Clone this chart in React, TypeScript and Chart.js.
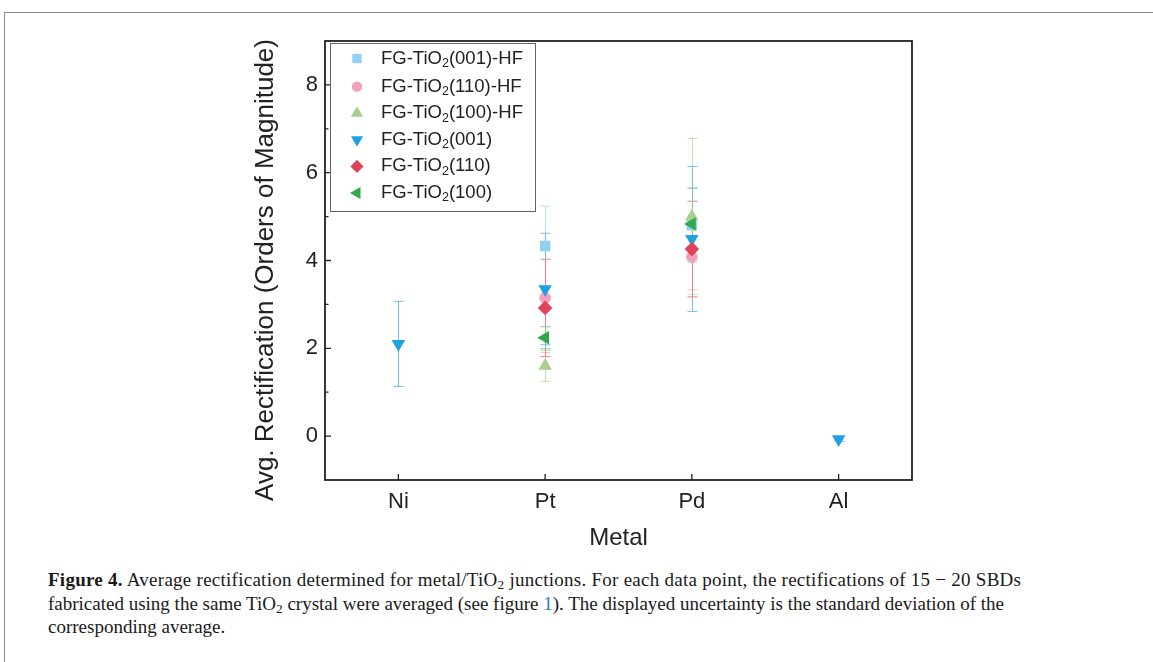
import React, { useEffect, useRef } from "react";
import { Chart, registerables } from "chart.js";

Chart.register(...registerables);

// ---------- data ----------
const metals = ["Ni", "Pt", "Pd", "Al"];

const labelPrefix = "FG-TiO";
const labelSub = "2";
const labelSuffixes = ["(001)-HF", "(110)-HF", "(100)-HF", "(001)", "(110)", "(100)"];

const v001HF = [null, 4.33, 4.8, null];
const e001HF = [null, 0.91, 0.85, null];
const v110HF = [null, 3.15, 4.08, null];
const e110HF = [null, 1.25, 0.75, null];
const v100HF = [null, 1.6, 5.0, null];
const e100HF = [null, 0.35, 1.78, null];
const v001 = [2.1, 3.35, 4.49, -0.07];
const e001 = [0.97, 1.27, 1.65, 0.05];
const v110 = [null, 2.92, 4.26, null];
const e110 = [null, 1.11, 1.09, null];
const v100 = [null, 2.24, 4.83, null];
const e100 = [null, 0.25, 0.82, null];

const yTickValues = [0, 2, 4, 6, 8];

// ---------- styles ----------
const seriesValues = [v001HF, v110HF, v100HF, v001, v110, v100];
const seriesErrors = [e001HF, e110HF, e100HF, e001, e110, e100];
const markerColors = ["#8fd0f4", "#f0a2bc", "#a9cf8f", "#1ea2e4", "#e0445a", "#2fa84e"];
const errorColors = ["#b3def7", "#f3c2d1", "#c4dfb2", "#6cc3ee", "#ec7e8c", "#7cc98d"];
const markerStyles = ["rect", "circle", "triangle", "triangle", "rectRot", "triangle"];
const markerRotations = [0, 0, 0, 180, 0, 270];
const markerRadii = [7.3, 5.8, 7.8, 7.8, 7.3, 7.8];

const SANS = "'Liberation Sans', Arial, sans-serif";
const AXIS_COLOR = "#222";

function drawMarker(ctx: CanvasRenderingContext2D, style: string, rotDeg: number, r: number, x: number, y: number) {
  let rad = (rotDeg * Math.PI) / 180;
  ctx.beginPath();
  if (style === "circle") {
    ctx.arc(x, y, r, 0, Math.PI * 2);
  } else if (style === "rect") {
    const s = Math.SQRT1_2 * r;
    ctx.rect(x - s, y - s, 2 * s, 2 * s);
  } else if (style === "triangle") {
    ctx.moveTo(x + Math.sin(rad) * r, y - Math.cos(rad) * r);
    rad += (2 * Math.PI) / 3;
    ctx.lineTo(x + Math.sin(rad) * r, y - Math.cos(rad) * r);
    rad += (2 * Math.PI) / 3;
    ctx.lineTo(x + Math.sin(rad) * r, y - Math.cos(rad) * r);
    ctx.closePath();
  } else if (style === "rectRot") {
    ctx.moveTo(x - r, y);
    ctx.lineTo(x, y - r);
    ctx.lineTo(x + r, y);
    ctx.lineTo(x, y + r);
    ctx.closePath();
  }
  ctx.fill();
}

const errorBarPlugin = {
  id: "errorBars",
  beforeDatasetsDraw(chart: any) {
    const ctx = chart.ctx as CanvasRenderingContext2D;
    const xs = chart.scales.x;
    const ys = chart.scales.y;
    ctx.save();
    ctx.lineWidth = 1;
    seriesValues.forEach((vals, i) => {
      ctx.strokeStyle = errorColors[i];
      vals.forEach((v, j) => {
        const e = seriesErrors[i][j];
        if (v === null || e === null) return;
        const x = Math.round(xs.getPixelForValue(j)) + 0.5;
        const yt = ys.getPixelForValue((v as number) + (e as number));
        const yb = ys.getPixelForValue((v as number) - (e as number));
        ctx.beginPath();
        ctx.moveTo(x, yt);
        ctx.lineTo(x, yb);
        ctx.moveTo(x - 5, yt);
        ctx.lineTo(x + 5, yt);
        ctx.moveTo(x - 5, yb);
        ctx.lineTo(x + 5, yb);
        ctx.stroke();
      });
    });
    ctx.restore();
  },
};

const framePlugin = {
  id: "frameAndLegend",
  afterDraw(chart: any) {
    const ctx = chart.ctx as CanvasRenderingContext2D;
    const { left, right, top, bottom } = chart.chartArea;
    const xs = chart.scales.x;
    const ys = chart.scales.y;
    ctx.save();
    // frame
    ctx.strokeStyle = AXIS_COLOR;
    ctx.lineWidth = 1.8;
    ctx.strokeRect(left, top, right - left, bottom - top);
    // inward ticks
    ctx.lineWidth = 1.3;
    ctx.beginPath();
    for (let v = -1; v <= 9; v++) {
      const y = ys.getPixelForValue(v);
      const len = v % 2 === 0 ? 6 : 3.5;
      if (v === -1 || v === 9) continue;
      ctx.moveTo(left, y);
      ctx.lineTo(left + len, y);
    }
    metals.forEach((_, j) => {
      const x = xs.getPixelForValue(j);
      ctx.moveTo(x, bottom);
      ctx.lineTo(x, bottom - 6);
    });
    ctx.stroke();

    // y title
    ctx.fillStyle = AXIS_COLOR;
    ctx.font = `26px ${SANS}`;
    ctx.textAlign = "center";
    ctx.textBaseline = "middle";
    ctx.translate(266, 270);
    ctx.rotate(-Math.PI / 2);
    ctx.fillText("Avg. Rectification (Orders of Magnitude)", 0, 0);
    ctx.restore();

    // legend
    ctx.save();
    const lx = left + 5.5;
    const ly = top + 2.5;
    ctx.strokeStyle = "#666";
    ctx.lineWidth = 1;
    ctx.strokeRect(lx, ly, 205, 168);
    labelSuffixes.forEach((suf, i) => {
      const cy = 58.5 + i * 26.6 + (i > 0 ? 1.5 : 0);
      ctx.fillStyle = markerColors[i];
      drawMarker(ctx, markerStyles[i], markerRotations[i], markerRadii[i] * 0.9, 357, cy);
      ctx.fillStyle = AXIS_COLOR;
      ctx.textAlign = "left";
      ctx.textBaseline = "middle";
      ctx.font = `18.5px ${SANS}`;
      let x = 381;
      ctx.fillText(labelPrefix, x, cy);
      x += ctx.measureText(labelPrefix).width;
      ctx.font = `12.5px ${SANS}`;
      ctx.fillText(labelSub, x, cy + 5);
      x += ctx.measureText(labelSub).width;
      ctx.font = `18.5px ${SANS}`;
      ctx.fillText(suf, x, cy);
    });
    ctx.restore();
  },
};

export default function App() {
  const ref = useRef<HTMLCanvasElement>(null);

  useEffect(() => {
    const datasets = seriesValues.map((vals, i) => ({
      label: labelPrefix + labelSub + labelSuffixes[i],
      data: vals,
      showLine: false,
      order: 6 - i,
      pointStyle: markerStyles[i],
      pointRotation: markerRotations[i],
      pointRadius: markerRadii[i],
      pointBackgroundColor: markerColors[i],
      pointBorderColor: markerColors[i],
      pointBorderWidth: 0,
      borderColor: markerColors[i],
      backgroundColor: markerColors[i],
    }));

    const chart = new Chart(ref.current as HTMLCanvasElement, {
      type: "line",
      data: { labels: metals, datasets: datasets as any },
      options: {
        responsive: false,
        animation: false,
        devicePixelRatio: 1,
        layout: { padding: { left: 240, right: 241, top: 41, bottom: 0 } },
        plugins: { legend: { display: false }, tooltip: { enabled: false } },
        scales: {
          x: {
            type: "category",
            offset: true,
            grid: { display: false, drawTicks: false },
            border: { display: false },
            ticks: { font: { family: SANS, size: 22 }, color: AXIS_COLOR, padding: 9 },
            title: {
              display: true,
              text: "Metal",
              font: { family: SANS, size: 24 },
              color: AXIS_COLOR,
              padding: { top: 0, bottom: 7 },
            },
            afterFit: (s: any) => {
              s.height = 80;
            },
          },
          y: {
            type: "linear",
            min: -1,
            max: 9,
            grid: { display: false, drawTicks: false },
            border: { display: false },
            ticks: {
              stepSize: 1,
              autoSkip: false,
              font: { family: SANS, size: 22 },
              color: AXIS_COLOR,
              padding: 7,
              callback: (v: any) => (yTickValues.includes(Number(v)) ? String(v) : ""),
            },
            afterFit: (s: any) => {
              s.width = 85;
            },
          },
        },
      },
      plugins: [errorBarPlugin, framePlugin],
    });
    return () => chart.destroy();
  }, []);

  const sub: React.CSSProperties = { fontSize: "0.7em", verticalAlign: "-0.25em", lineHeight: 0 };

  return (
    <div
      style={{
        position: "absolute",
        left: 0,
        top: 0,
        width: 1153,
        height: 662,
        overflow: "hidden",
        background: "#fff",
      }}
    >
      <div
        style={{
          position: "absolute",
          left: 4,
          top: 12,
          width: 1300,
          height: 800,
          borderTop: "1.5px solid #8c8c8c",
          borderLeft: "1.5px solid #8c8c8c",
        }}
      />
      <canvas
        ref={ref}
        width={1153}
        height={560}
        style={{ position: "absolute", left: 0, top: 0, width: 1153, height: 560 }}
      />
      <div
        style={{
          position: "absolute",
          left: 48,
          top: 568,
          fontFamily: "'Liberation Serif', 'Times New Roman', serif",
          fontSize: 19,
          lineHeight: "23.5px",
          color: "#1a1a1a",
          whiteSpace: "nowrap",
        }}
      >
        <div style={{ letterSpacing: "0.26px" }}>
          <b>Figure 4.</b> Average rectification determined for metal/TiO<span style={sub}>2</span> junctions. For
          each data point, the rectifications of 15 − 20 SBDs
        </div>
        <div>
          fabricated using the same TiO<span style={sub}>2</span> crystal were averaged (see figure{" "}
          <span style={{ color: "#2b7bb9" }}>1</span>). The displayed uncertainty is the standard deviation of the
        </div>
        <div>corresponding average.</div>
      </div>
    </div>
  );
}
